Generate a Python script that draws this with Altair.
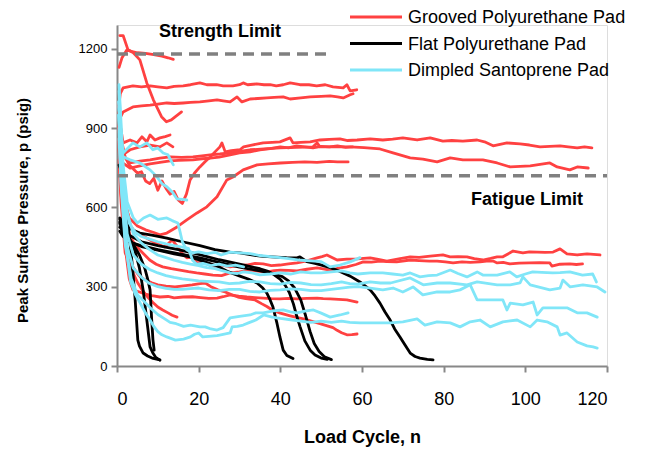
import altair as alt
import pandas as pd

# ---------------- data ----------------
GROUPS = ["Grooved Polyurethane Pad", "Flat Polyurethane Pad", "Dimpled Santoprene Pad"]
COLORS = ["#FF4141", "#000000", "#80E6F8"]

X_TICKS = [0, 20, 40, 60, 80, 100, 120]
Y_TICKS = [0, 300, 600, 900, 1200]

LIMIT_NAMES = ["Strength Limit", "Fatigue Limit"]
LIMIT_VALUES = [1180, 720]
LIMIT_X_END = [52, 120]
LIMIT_LABEL_X = [25.2, 100.4]
LIMIT_LABEL_Y = [1262, 628]

# Grooved Polyurethane Pad (red)
g1 = [(0.7,1250),(1.5,1250),(2.7,1196),(4,1185),(5.6,1158),(7.3,1071),(8.9,1007),(10.9,943),(12.1,924),(13.3,931),(15.8,961)]
g2 = [(0.5,1130),(1.2,1165),(2.4,1196),(3.5,1190),(5,1185),(7,1183),(9,1178),(11,1172),(12.5,1166),(13.8,1160)]
g3 = [(0.4,980),(0.8,1030),(1.5,1052),(3.9,1060),(6,1056),(8.1,1060),(10,1056),(12.2,1052),(14,1058),(16.2,1060),(18,1064),(20.3,1071),(22,1064),(24.4,1064),(26,1060),(28.4,1060),(30,1064),(30.9,1071),(32,1064),(34.2,1067),(36,1064),(37.5,1064),(39,1060),(40.7,1064),(42.4,1071),(44.8,1064),(47,1064),(48.9,1060),(51,1064),(52.9,1056),(55.4,1052),(56.3,1064),(57.1,1041),(58.7,1045)]
g4 = [(0.4,900),(0.8,940),(1.5,961),(3.9,980),(6,984),(8.1,987),(10,991),(12.2,995),(14,993),(16.2,995),(18,997),(20.3,999),(22.5,1003),(24.5,1007),(26,1003),(27.7,999),(29.4,1018),(30.6,999),(32.6,1010),(34.5,1012),(36.7,1014),(38.5,1016),(40.7,1018),(42.4,1010),(45,1014),(47.3,1018),(50,1020),(52.2,1022),(54,1018),(55.4,1014),(57.1,1026),(57.8,1030)]
g5 = [(0.6,930),(1.5,844),(3.2,855),(4.9,844),(6.1,867),(7.3,848),(8.1,874),(9.3,855),(10.5,863),(11.8,868),(13,874)]
g6 = [(0.6,880),(1.5,800),(3.2,818),(5.6,829),(8.1,836),(10.5,829),(12.2,844),(13.7,829)]
g7 = [(0.5,960),(1,860),(2,790),(3,760),(4,745),(5,730),(6,735),(7,700),(8,690),(9,710),(10,665),(11,700),(12,672),(13,650),(14,660),(15,628),(16,615),(17,650),(17.9,704),(19,730),(20.3,753),(21.5,772),(22.8,791),(24,810),(25.2,829),(25.7,844),(26.5,810),(28,815),(30.1,818),(31,829),(33,836),(35.8,844),(38,846),(39.9,848),(42.4,863),(43.1,844),(45,846),(47.3,848),(49.7,855),(52,857),(54.6,859),(56.5,853),(58.8,855),(62,859),(65.1,855),(67.5,858),(70,863),(73.5,855),(76.7,863),(79.8,851),(82,853),(84.7,851),(88.2,855),(90,848),(92.1,833),(95.5,844),(98.7,840),(101,836),(103.6,829),(106,831),(108.5,833),(110.5,829),(112.7,825),(114.5,829),(116.3,825)]
g8 = [(0.5,900),(1.2,800),(3.2,768),(5.6,775),(8.1,780),(10.5,786),(13,791),(15.8,789),(18.6,791),(20.8,795),(22.8,799),(25.2,802),(27.7,806),(30,812),(32.6,818),(36,821),(39.9,825),(44,827),(48,829),(49,844),(49.7,829),(54.6,829),(57.1,829),(60.5,826),(64.4,821),(67.6,806),(71.8,787),(74.9,783),(78.4,772),(81.6,787),(84.7,780),(89.6,780),(93.1,768),(96.3,753),(101.2,757),(106,768),(107.8,753),(110.9,742),(112.7,753),(115.4,749)]
g9 = [(0.5,850),(1.2,770),(3.2,749),(5.6,757),(8.1,765),(10.5,770),(13,776),(15,778),(18.6,780),(20.8,784),(22.8,786),(25,790),(27.7,799),(30,806),(32.6,810),(35,818),(37.5,822),(40,829),(42,825),(44,833),(46,829),(48,825),(50,831),(52,829),(54,833),(56,827),(57.7,829)]
g10 = [(0.6,760),(1.5,640),(3,560),(5,530),(7,515),(9,505),(10.5,496),(12.2,503),(14.7,526),(17.1,553),(19.6,579),(22,602),(24.5,640),(26.9,704),(28.4,715),(30.9,742),(34.3,761),(37,765),(40,768),(43,770),(46,772),(49,770),(52,774),(54,772),(56.6,772)]
g11 = [(0.5,900),(1,760),(2,620),(3.3,530),(4.5,505),(6.8,488),(9.3,466),(11.7,450),(13.5,477),(14.9,450),(15.9,428),(17.1,409),(18.4,412),(19.6,390),(21.6,394),(23.3,375),(25.7,382),(27.7,375),(29.5,380),(31.8,382),(33.8,388),(35.8,386),(37.8,380),(39.9,382),(42,386),(44.1,390),(46.5,398),(49,409),(50.2,414),(51.4,420),(53.9,401),(56.3,404),(58.8,405),(62,409),(64,403),(66.1,397),(69,405),(71.8,413),(74,411),(76.7,416),(79.8,420),(81.6,413),(83.5,414),(85.7,413),(87.5,406),(89.6,401),(91.5,407),(93.1,413),(94.5,413),(97,435),(99.4,428),(101,432),(102.9,431),(104.8,430),(106.8,431),(108.5,443),(110.2,424),(112.7,420),(115.1,424),(118.3,420)]
g12 = [(0.5,860),(1,720),(2,560),(3.3,488),(4.4,460),(5.6,439),(6.8,420),(8,401),(9.6,385),(11.2,375),(13.3,368),(15.4,363),(17.5,357),(19.5,352),(21.5,348),(23.5,344),(25.6,342),(27.7,352),(30,356),(32.6,363),(34.5,359),(36.7,356),(38.5,361),(40,363),(42,362),(44.1,360),(46.5,366),(49,371),(50.5,367),(52.2,363),(54.3,370),(56.3,375),(58.5,384),(60.3,394),(62.3,393),(64.4,397),(66.1,395),(68.5,394),(71.8,401),(74,399),(76.5,397),(78.4,397),(80.4,394),(82.3,390),(84.5,394),(86.5,392),(88.9,394),(90.5,397),(92.1,397),(93.1,390),(94.6,392),(96.2,386),(98.5,389),(101,390),(103.5,391),(106,390),(106.5,378),(108.5,385),(110.9,386),(112.5,384),(114,386)]
g13 = [(0.5,820),(1,660),(2,450),(3,330),(3.9,288),(5.5,280),(7,272),(8.5,266),(10.5,261),(12.5,263),(14,258),(16.2,261),(18.5,262),(20.5,259),(22.5,256),(24.5,257),(26,262),(27.7,269),(29.8,264),(31.8,261),(33.8,259),(35.8,257),(37.8,255),(39.9,254),(42,256),(44.1,254),(46.5,256),(49,257),(50.5,255),(52.2,254),(54.3,252),(56.3,250),(58.8,242)]
g14 = [(0.5,780),(1,620),(2,428),(3.2,390),(4.4,363),(5.5,340),(6.9,326),(8.5,315),(10,307),(12,302),(14.2,299),(16.3,303),(18.4,307),(20.3,312),(21.6,314),(23,300),(24.7,288),(26.5,280),(28,270),(29.6,261),(31.5,255),(33.8,250),(35.5,235),(36.7,225),(38.2,210),(40,200),(42.4,190),(44.5,182),(46.5,175),(48,168),(49.7,160),(51.5,152),(52.9,145),(53.9,135),(55,126),(56.3,118),(57.5,119),(58.8,121)]
g15 = [(0.5,840),(1,650),(2,470),(3.2,390),(4,350),(5.1,314),(6.3,285),(7.5,261),(8.8,240),(10,223),(11.2,212),(12.5,201),(13.5,192),(14.7,185)]

# Flat Polyurethane Pad (black)
k1 = [(0.5,760),(1,740),(1.5,704),(2.4,579),(3.7,390),(4.4,261),(5.1,98),(5.5,75),(6.4,49),(7.5,38),(8.6,30),(10.5,23)]
k2 = [(0.7,545),(1.5,525),(2.5,500),(3.5,470),(4.5,430),(5.5,370),(6.4,288),(7.3,174),(8.1,72),(8.8,49),(9.5,32),(10.5,22)]
k3 = [(0.7,525),(1.5,510),(2.5,490),(4,460),(5.5,420),(6.8,370),(7.5,330),(8.1,288),(8.5,174),(8.8,100),(9.1,60)]
k4 = [(0.7,540),(1.5,500),(3,470),(6,452),(10,438),(14,424),(17.9,413),(21,397),(24.5,378),(27,358),(30.1,340),(32.3,328),(34.3,314),(35.7,295),(36.7,276),(37.5,250),(38.2,223),(39.2,160),(39.9,110),(40.7,60),(41.6,40),(43.1,28)]
k5 = [(0.7,555),(1.5,520),(3,495),(6,470),(10,455),(15,440),(20,422),(25,402),(30,385),(33,375),(35,368),(37,358),(38.5,345),(40,328),(41.2,305),(42.2,278),(43.2,235),(44,190),(44.8,150),(46,95),(47.3,60),(48.5,42),(50,30),(51.5,25)]
k6 = [(0.7,510),(1.5,490),(3,470),(6,455),(10,440),(15,425),(20,410),(25,392),(30,374),(35,360),(38,350),(40.5,338),(42,322),(43.5,295),(45,250),(46.2,190),(47.3,130),(48.3,85),(49.5,55),(50.8,35),(52.5,24)]
k7 = [(0.7,560),(1.5,540),(3,520),(5.6,503),(8.5,495),(12.2,484),(16,470),(20.3,455),(24,440),(27.7,431),(30.1,428),(33,420),(35.8,415),(39,412),(41.5,410),(44.1,409),(44.8,413),(46.5,395),(48.5,388),(50.5,380),(52.2,372),(54.6,358),(57.1,340),(59.5,318),(62,288),(63.2,265),(64.4,238),(65.6,205),(66.9,174),(68,140),(69.3,110),(70.5,80),(71.8,49),(73,36),(74.2,30),(76,25),(77.4,23)]

# Dimpled Santoprene Pad (light blue)
d1 = [(0.5,1040),(1,880),(1.5,740),(2.5,580),(4,500),(6,465),(8,440),(10,420),(12,410),(14,400),(16,392),(18,385),(20,380),(22,372),(24,368),(26,360),(27.7,352),(29.5,350),(31,356),(33,352),(35,345),(37.5,348),(40,352),(42.5,348),(45,356),(47.5,352),(50,352),(52.5,356),(55,360),(57,352),(59,348),(62,352),(65.1,352),(67.5,348),(70,344),(71.8,352),(74.2,337),(76.3,342),(78.4,344),(81.6,363),(83.5,350),(85.7,337),(88.2,356),(89.6,344),(93.1,344),(96.2,356),(97.9,337),(100,348),(101.8,356),(104,354),(106.7,352),(108.5,353),(110.9,356),(114,344),(116.5,348),(117.4,318)]
d2 = [(0.5,980),(1,820),(1.5,680),(2.5,500),(4,420),(6,385),(8,365),(10,352),(12,342),(14,335),(16,330),(18,326),(20,322),(22,320),(25,318),(27.5,312),(30,314),(32.5,320),(35,318),(37.5,312),(40,310),(42.5,316),(45,314),(47.5,308),(50,307),(52.5,312),(55,318),(57,312),(59,310),(62,318),(64.5,314),(67,314),(71.8,333),(75,307),(78.4,314),(81.6,314),(85.7,307),(88.2,318),(93.1,307),(96.3,307),(98.7,314),(99.4,337),(101.2,307),(106,288),(108.5,295),(109.2,325),(111,299),(114.1,307),(117.6,299),(119.5,280)]
d3 = [(0.5,950),(1,780),(1.5,620),(2.5,450),(4,370),(6,335),(8,312),(10,300),(12,294),(14,290),(16,290),(18,293),(20,295),(22.5,288),(25,285),(27.5,290),(30,290),(32.5,282),(35,280),(37.5,286),(40,288),(42.5,292),(45,290),(47.5,285),(50,285),(52.5,290),(55,295),(57,298),(59,300),(62,295),(65.1,288),(67.6,295),(70,280),(72.5,299),(74.9,269),(78.4,280),(81.6,280),(84,288),(86.5,307),(88.2,250),(91.4,250),(94.5,250),(95.5,212),(96.3,238),(99.4,231),(101.9,242),(102.9,193),(104.3,220),(107.8,220),(110.2,220),(112.7,201),(115.1,201),(117.6,185)]
d4 = [(0.5,900),(1,700),(2,480),(3.3,320),(4.5,270),(5.6,240),(7,200),(8.1,174),(9,150),(10,130),(11,118),(12.2,110),(14.3,98),(16.3,102),(18,110),(19,120),(20,125),(21,110),(22.5,112),(24.5,115),(26,120),(27.7,125),(28.2,148),(29.5,150),(30.9,155),(32.5,165),(34,174),(35.9,193),(38,185),(40,180),(42.5,175),(45,170),(47.5,165),(50,170),(52.5,165),(55,170),(57,165),(59.5,163),(62,163),(67,163),(70,167),(73.5,178),(75.4,155),(78.4,167),(81.6,163),(84,148),(86.5,167),(88.9,174),(91.4,148),(94.5,167),(98,174),(101.2,148),(102.9,174),(105.3,167),(107.8,148),(108.5,117),(110.2,125),(112.7,91),(115.1,76),(116.6,72),(117.6,68)]
d5 = [(0.5,1064),(1,920),(1.5,760),(2.5,620),(4,560),(5,541),(6.5,560),(8.1,571),(10,555),(12.2,560),(13.5,550),(14.9,541),(15.4,510),(16,470),(17,440),(18.5,428),(20,432),(22,425),(24,430),(25.5,420),(27.7,431),(30,428),(32.6,425),(35,418),(37.5,414),(40,410),(42.5,405),(45,400),(47.5,398),(50,395),(52.2,375),(54.6,382),(57.1,394),(59.5,410)]
d6 = [(0.5,860),(1,680),(2,460),(3.5,330),(5,270),(6.9,240),(8.5,215),(10,195),(11.5,180),(13,165),(14.5,160),(16.3,150),(18,155),(20.3,148),(21.6,148),(23,140),(24.5,136),(26,145),(27.7,182),(30,188),(32.6,193),(34,201),(35.8,201),(38,208),(40.7,212),(42.5,205),(44.1,201),(46,208),(48.1,212),(50,200),(52.2,185),(54.6,193),(56.6,201)]
d7 = [(0.5,1000),(1,840),(2,620),(3,540),(4.5,505),(6,490),(8,480),(10,470),(12,462),(14,455),(16,450),(17.5,445),(18.5,400),(19.5,385),(21,388),(23,380),(25,385),(27,378),(29,382),(31,375)]
d8 = [(0.4,1000),(0.8,900),(1.5,806),(3.9,844),(5.6,829),(7.3,844),(8.8,818),(10,825),(11.3,806),(12.5,799),(13.1,780),(13.8,761)]
d9 = [(0.4,950),(0.8,830),(1.5,791),(3.2,780),(5.6,768),(8.1,742),(9.8,715),(11,690),(12.2,678),(13.7,655),(14.7,632),(16,630),(17.1,628)]

GROOVED = [g1, g2, g3, g4, g5, g6, g7, g8, g9, g10, g11, g12, g13, g14, g15]
FLAT = [k1, k2, k3, k4, k5, k6, k7]
DIMPLED = [d1, d2, d3, d4, d5, d6, d7, d8, d9]

# ---------------- build tables ----------------
def table(group, series_list):
    rows = []
    for i, s in enumerate(series_list):
        for j, (x, y) in enumerate(s):
            rows.append({"group": group, "sid": f"{group}-{i}", "idx": j, "x": x, "y": y})
    return pd.DataFrame(rows)

FONT = "Liberation Sans"
X_SCALE = alt.Scale(domain=[0, 120], nice=False, zero=False)
Y_SCALE = alt.Scale(domain=[0, 1290], nice=False, zero=False)

X_AXIS = alt.Axis(values=X_TICKS, title="Load Cycle, n", grid=False, format="d",
                  labelFontSize=18, labelPadding=18, labelColor="#000000",
                  titleFontSize=18, titleFontWeight="bold", titleColor="#000000",
                  titleY=71, titleBaseline="middle",
                  domainColor="#888888", domainWidth=2, tickColor="#888888",
                  tickWidth=2, tickSize=6)
Y_AXIS = alt.Axis(values=Y_TICKS, title="Peak Surface Pressure, p (psig)", grid=False, format="d",
                  labelFontSize=13, labelPadding=4, labelColor="#000000",
                  titleFontSize=15, titleFontWeight="bold", titleColor="#000000",
                  titleX=-95, titleY=185, titleBaseline="middle", titleAlign="center",
                  domainColor="#888888", domainWidth=2, tickColor="#888888",
                  tickWidth=2, tickSize=6)

def lines(group, series_list, color):
    return alt.Chart(table(group, series_list)).mark_line(
        color=color, strokeWidth=2.8, strokeJoin="round", strokeCap="round"
    ).encode(
        x=alt.X("x:Q", scale=X_SCALE, axis=X_AXIS),
        y=alt.Y("y:Q", scale=Y_SCALE, axis=Y_AXIS),
        detail="sid:N",
        order="idx:Q",
    )

red = lines(GROUPS[0], GROOVED, COLORS[0])
black = lines(GROUPS[1], FLAT, COLORS[1])
cyan = lines(GROUPS[2], DIMPLED, COLORS[2])

limits_df = pd.DataFrame({
    "name": LIMIT_NAMES, "y": LIMIT_VALUES,
    "x0": [0] * len(LIMIT_VALUES), "x1": LIMIT_X_END,
    "lx": LIMIT_LABEL_X, "ly": LIMIT_LABEL_Y,
})

limit_rules = alt.Chart(limits_df).mark_rule(
    color="#808080", strokeWidth=3.5, strokeDash=[11, 7]
).encode(
    x=alt.X("x0:Q", scale=X_SCALE, axis=X_AXIS),
    x2="x1:Q",
    y=alt.Y("y:Q", scale=Y_SCALE, axis=Y_AXIS),
)

limit_text = alt.Chart(limits_df).mark_text(
    font=FONT, fontSize=18, fontWeight="bold", color="#000000",
    align="center", baseline="middle"
).encode(
    x=alt.X("lx:Q", scale=X_SCALE, axis=X_AXIS),
    y=alt.Y("ly:Q", scale=Y_SCALE, axis=Y_AXIS),
    text="name:N",
)

# manual legend (upper right, above the plot area)
legend_layers = []
one = pd.DataFrame({"k": [0]})
for i, (g, c) in enumerate(zip(GROUPS, COLORS)):
    ypix = -8 + i * 26.5
    legend_layers.append(
        alt.Chart(one).mark_rule(color=c, strokeWidth=2.8).encode(
            x=alt.value(233), x2=alt.value(285), y=alt.value(ypix)
        )
    )
    legend_layers.append(
        alt.Chart(one).mark_text(font=FONT, fontSize=18, color="#000000",
                                 align="left", baseline="middle").encode(
            x=alt.value(291), y=alt.value(ypix + 1), text=alt.value(g)
        )
    )

chart = alt.layer(
    red, black, cyan, limit_rules, limit_text, *legend_layers
).properties(
    width=490, height=341,
    autosize=alt.AutoSizeParams(type="none"),
    padding={"left": 109, "top": 17, "right": 20, "bottom": 90},
).configure_view(stroke=None).configure(font=FONT)

chart.save("out.html", embed_options={"renderer": "svg", "actions": False})
